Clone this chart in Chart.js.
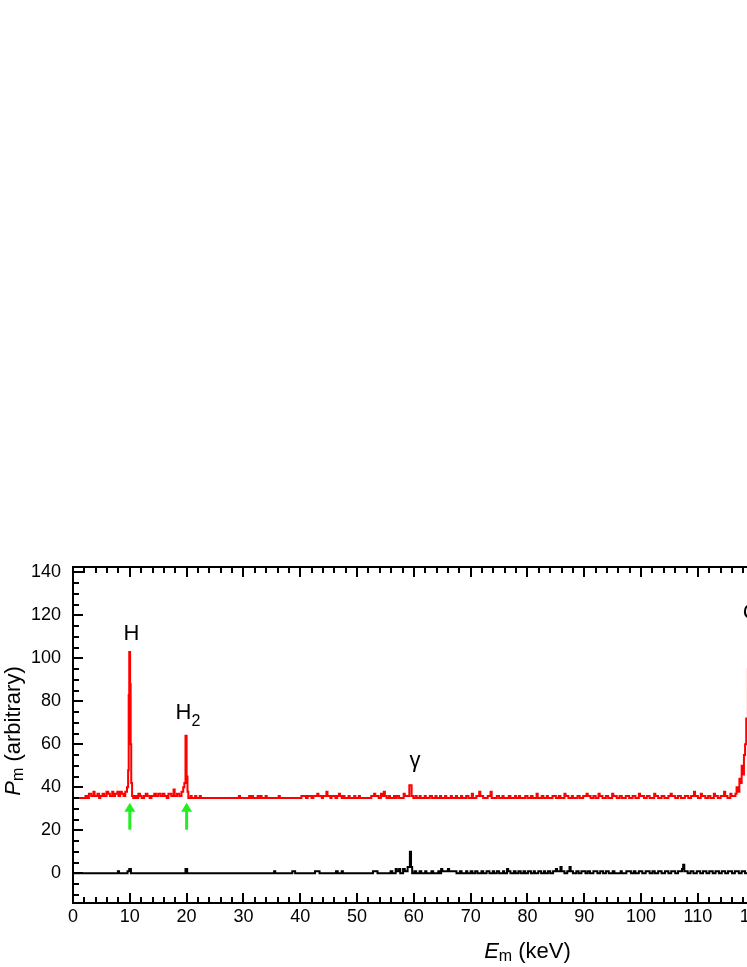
<!DOCTYPE html>
<html>
<head>
<meta charset="utf-8">
<script src="https://cdn.jsdelivr.net/npm/chart.js@4/dist/chart.umd.min.js"></script>
<style>
  html, body { margin: 0; padding: 0; background: #fff; overflow: hidden; }
  #wrap { width: 1000px; height: 967px; }
</style>
</head>
<body>
<div id="wrap"><canvas id="spectrum" width="1000" height="967"></canvas></div>
<script>
// bin start energy (keV) and level, red spectrum (offset by 35)
const redE = [0, 2.2, 2.5, 2.8, 3.2, 3.6, 3.8, 4.3, 4.6, 4.8, 5.2, 5.5, 5.9, 6.2, 6.5, 6.9, 7.1, 7.4, 7.8, 8.0, 8.3, 8.6, 8.9, 9.2,
  9.5, 9.7, 9.8, 9.9, 10.05, 10.15, 10.25, 10.4, 10.6,
  10.9, 11.2, 11.5, 11.8, 12.1, 12.5, 12.8, 13.1, 13.5, 13.8, 14.3, 14.6, 15.0, 15.4, 15.8, 16.1, 16.5, 16.8, 17.3, 17.7, 17.9,
  18.3, 18.7, 19.1, 19.4, 19.6, 19.8, 20.0, 20.15, 20.3,
  20.7, 20.9, 21.5, 21.7, 22.3, 22.5,
  29.2, 29.4, 31.0, 31.3, 31.5, 31.7, 32.5, 32.7, 33.0, 33.2, 33.9, 34.1, 36.2, 36.4,
  40.2, 41.0, 41.3, 42.0, 42.3, 43.0, 43.2, 43.8, 44.0, 44.6, 44.8, 45.3, 45.5, 46.2, 46.5, 46.8, 47.0, 47.3,
  47.6, 47.8, 48.5, 48.7, 49.5, 49.7, 50.3, 50.5, 52.5, 53.0, 53.2, 53.8, 54.2, 54.4, 54.7, 54.9, 55.2, 55.6, 55.8, 56.5, 56.7,
  57.0, 57.4, 58.2, 58.4, 59.2, 59.6, 59.9, 60.3, 60.5, 61.0, 61.2, 61.9, 62.1, 62.8, 63.2, 63.8, 64.0, 64.6, 64.8, 65.5, 65.7,
  66.5, 66.7, 67.4, 67.6, 68.3, 68.5, 69.2, 69.6, 70.2, 70.4, 71.0, 71.5, 71.7, 72.2, 73.0, 73.5, 73.7,
  74.6, 75.0, 75.6, 75.8, 76.7, 77.0, 77.8, 78.0, 78.5, 78.7, 79.6, 80.0, 80.6, 80.9, 81.6, 81.8, 82.5, 82.8, 83.4, 83.6,
  84.4, 85.0, 85.5, 85.8, 86.5, 86.7, 87.2, 87.8, 88.0, 88.8, 89.2, 89.8, 90.4, 90.6, 91.1, 91.6, 92.0, 92.5, 92.7, 93.2,
  93.8, 94.2, 94.9, 95.1, 95.7, 96.2, 96.6, 97.3, 97.9, 98.5, 99.0, 99.6, 99.8, 100.5, 101.0, 101.5, 102.3, 102.5, 103.0,
  103.6, 104.1, 104.8, 105.2, 105.4, 106.0, 106.5, 107.0, 107.7, 108.3, 108.8, 109.3, 109.5, 110.0, 110.5, 110.7, 111.3,
  111.8, 112.2, 112.8, 113.0, 113.5, 114.0, 114.6, 114.8, 115.2, 115.7, 115.9,
  116.6, 116.8, 117.0, 117.3, 117.5, 117.7, 117.9, 118.1, 118.3, 118.5, 118.8, 119.1, 119.4, 119.7, 120.0, 120.4, 120.8,
  121.3, 122.0, 123.0, 160];
const redP = [35, 36, 35, 37, 36, 38, 36, 37, 35, 36, 37, 36, 38, 37, 36, 38, 36, 37, 38, 36, 38, 37, 36, 38,
  40, 48, 83, 103, 88, 60, 42, 36, 35,
  36, 35, 37, 36, 35, 36, 37, 36, 35, 36, 37, 36, 37, 36, 37, 36, 35, 37, 36, 39, 36,
  37, 36, 38, 40, 42, 64, 45, 38, 35,
  36, 35, 36, 35, 36, 35,
  36, 35, 36, 35, 36, 35, 36, 35, 36, 35, 36, 35, 36, 35,
  36, 35, 36, 35, 36, 37, 36, 35, 36, 38, 36, 35, 36, 35, 36, 37, 36, 35,
  36, 35, 36, 35, 36, 35, 36, 35, 36, 37, 36, 35, 37, 36, 38, 36, 35, 36, 35, 36, 35,
  36, 35, 37, 36, 41, 36, 35, 36, 35, 36, 35, 36, 35, 36, 35, 36, 35, 36, 35, 36, 35,
  36, 35, 36, 35, 36, 35, 36, 35, 37, 35, 36, 38, 36, 35, 36, 38, 35,
  36, 35, 36, 35, 36, 35, 36, 35, 36, 35, 36, 35, 36, 35, 37, 35, 36, 35, 36, 35,
  36, 35, 36, 35, 37, 36, 35, 36, 35, 36, 35, 36, 37, 36, 35, 36, 35, 37, 36, 35,
  36, 35, 37, 36, 35, 36, 35, 36, 35, 36, 35, 37, 36, 35, 36, 35, 37, 36, 35,
  36, 35, 36, 37, 36, 35, 36, 35, 36, 35, 36, 38, 36, 35, 37, 36, 35,
  36, 35, 37, 36, 35, 36, 38, 36, 35, 37, 36,
  37, 40, 38, 44, 42, 50, 46, 55, 60, 72, 95, 108, 112, 90, 60, 45, 40,
  37, 36, 35, 35];

// black spectrum (no offset)
const blackE = [0, 7.9, 8.1, 9.6, 9.9, 10.2, 19.8, 20.1, 35.4, 35.6, 38.6, 39.1, 42.6, 43.4, 46.3, 46.6, 47.3, 47.5,
  52.8, 53.6, 55.9, 56.2, 56.8, 57.0, 57.4, 57.6, 58.1, 58.4, 58.9, 59.3, 59.5, 59.7, 60.1, 60.4, 61.0, 61.3,
  62.0, 62.2, 63.1, 63.4, 64.3, 64.5, 64.8, 65.0, 66.0, 66.2, 67.5, 68.1, 68.4, 69.2, 69.4,
  70.0, 70.3, 70.8, 71.2, 71.9, 72.2, 72.8, 73.3, 73.9, 74.1, 74.6, 75.0, 75.7, 75.9, 76.4, 76.6, 77.0, 77.6, 77.9,
  78.4, 78.8, 79.3, 79.6, 80.1, 80.6, 81.1, 81.3, 81.9, 82.4, 82.9, 83.1, 83.6, 84.0, 84.5, 85.0, 85.2, 85.8, 86.0,
  86.5, 87.0, 87.4, 87.6, 88.0, 88.6, 89.0, 89.5, 90.2, 90.6, 91.0, 91.6, 92.3, 92.8, 93.3, 93.8, 94.3, 95.0, 95.3,
  96.4, 96.6, 97.4, 98.2, 98.7, 99.0, 99.6, 100.2, 100.8, 101.5, 102.0, 102.4, 103.0, 103.6, 104.2, 104.8, 105.3,
  106.0, 106.5, 107.2, 107.4, 107.6, 108.2, 108.7, 109.2, 109.8, 110.4, 110.9, 111.5, 112.0, 112.6, 113.1, 113.7,
  114.2, 114.8, 115.3, 116.0, 116.5, 117.2, 117.7, 118.3, 160];
const blackP = [0, 1, 0, 1, 2, 0, 2, 0, 1, 0, 1, 0, 1, 0, 1, 0, 1, 0,
  1, 0, 1, 0, 2, 1, 2, 0, 2, 1, 3, 10, 3, 0, 1, 0, 1, 0,
  1, 0, 1, 0, 1, 0, 2, 1, 2, 1, 0, 1, 0, 1, 0,
  1, 0, 1, 0, 1, 0, 1, 0, 1, 0, 1, 0, 1, 0, 2, 1, 0, 1, 0,
  1, 0, 1, 0, 1, 0, 1, 0, 1, 0, 1, 0, 1, 0, 1, 2, 1, 3, 1,
  0, 1, 3, 1, 0, 1, 0, 1, 0, 1, 0, 1, 0, 1, 0, 1, 0, 1, 0,
  1, 0, 1, 0, 1, 0, 1, 0, 1, 0, 1, 0, 1, 0, 1, 0, 1,
  0, 1, 2, 4, 1, 0, 1, 0, 1, 0, 1, 0, 1, 0, 1, 0,
  1, 0, 1, 0, 1, 0, 1, 0, 0];

const xTicks = [0, 10, 20, 30, 40, 50, 60, 70, 80, 90, 100, 110, 120, 130, 140, 150, 160];
const yTicks = [0, 20, 40, 60, 80, 100, 120, 140];
const arrowsAt = [10, 20];

const FONT = "'Liberation Sans', Arial, Helvetica, sans-serif";

function pts(e, p) {
    return e.map((x, i) => ({ x: x, y: p[i] }));
}

// frame, inward ticks, peak labels, arrows and axis titles
const decor = {
    id: 'decor',
    afterDraw(chart) {
        const ctx = chart.ctx;
        const a = chart.chartArea;
        const xs = chart.scales.x, ys = chart.scales.y;
        ctx.save();
        ctx.strokeStyle = '#000';
        ctx.lineWidth = 2;
        ctx.lineCap = 'butt';

        ctx.beginPath();
        for (let v = 0; v <= 160; v += 2) {
            const px = Math.round(xs.getPixelForValue(v));
            const len = v % 10 === 0 ? 10 : 6;
            ctx.moveTo(px, a.bottom); ctx.lineTo(px, a.bottom - len);
            ctx.moveTo(px, a.top); ctx.lineTo(px, a.top + len);
        }
        for (let v = -10; v <= 140; v += 5) {
            const py = Math.round(ys.getPixelForValue(v));
            const len = v % 20 === 0 ? 10 : 6;
            ctx.moveTo(a.left, py); ctx.lineTo(a.left + len, py);
            ctx.moveTo(a.right, py); ctx.lineTo(a.right - len, py);
        }
        ctx.stroke();
        ctx.strokeRect(a.left, a.top, a.right - a.left, a.bottom - a.top);

        // green arrows
        ctx.fillStyle = '#22ee22';
        ctx.strokeStyle = '#22ee22';
        arrowsAt.forEach(e => {
            const px = xs.getPixelForValue(e);
            const yb = ys.getPixelForValue(20.3);
            const yt = ys.getPixelForValue(32.8);
            ctx.lineWidth = 3;
            ctx.beginPath();
            ctx.moveTo(px, yb); ctx.lineTo(px, yt + 8);
            ctx.stroke();
            ctx.beginPath();
            ctx.moveTo(px, yt);
            ctx.lineTo(px - 5.5, yt + 9);
            ctx.lineTo(px + 5.5, yt + 9);
            ctx.closePath();
            ctx.fill();
        });

        // peak labels
        ctx.fillStyle = '#000';
        ctx.textBaseline = 'alphabetic';
        ctx.textAlign = 'center';
        ctx.font = '22px ' + FONT;
        ctx.fillText('H', xs.getPixelForValue(10.3), ys.getPixelForValue(108.4));
        ctx.fillText('C', xs.getPixelForValue(119.3), ys.getPixelForValue(118.3));
        ctx.fillText('\u03b3', xs.getPixelForValue(60.2), ys.getPixelForValue(49.5));
        ctx.textAlign = 'left';
        const h2x = xs.getPixelForValue(18.05), h2y = ys.getPixelForValue(71.7);
        ctx.fillText('H', h2x, h2y);
        const hw = ctx.measureText('H').width;
        ctx.font = '16px ' + FONT;
        ctx.fillText('2', h2x + hw, h2y + 7);

        function drawParts(parts, cx, base) {
            let w = 0;
            parts.forEach(p => { ctx.font = p.f; w += ctx.measureText(p.t).width; });
            let x = cx - w / 2;
            parts.forEach(p => {
                ctx.font = p.f;
                ctx.fillText(p.t, x, base + p.dy);
                x += ctx.measureText(p.t).width;
            });
        }
        ctx.textAlign = 'left';
        drawParts([
            { t: 'E', f: 'italic 22px ' + FONT, dy: 0 },
            { t: 'm', f: '16px ' + FONT, dy: 3 },
            { t: ' (keV)', f: '22px ' + FONT, dy: 0 }
        ], (a.left + a.right) / 2, 958);

        ctx.save();
        ctx.translate(20, (a.top + a.bottom) / 2 - 4);
        ctx.rotate(-Math.PI / 2);
        drawParts([
            { t: 'P', f: 'italic 22px ' + FONT, dy: 0 },
            { t: 'm', f: '16px ' + FONT, dy: 3 },
            { t: ' (arbitrary)', f: '22px ' + FONT, dy: 0 }
        ], 0, 0);
        ctx.restore();

        ctx.restore();
    }
};

const ctx = document.getElementById('spectrum').getContext('2d');
new Chart(ctx, {
    type: 'line',
    data: {
        datasets: [
            {
                label: 'black',
                data: pts(blackE, blackP),
                borderColor: '#000',
                borderWidth: 2,
                stepped: true,
                pointRadius: 0,
                fill: false
            },
            {
                label: 'red',
                data: pts(redE, redP),
                borderColor: '#ff0000',
                borderWidth: 2,
                stepped: true,
                pointRadius: 0,
                fill: false
            }
        ]
    },
    options: {
        responsive: false,
        animation: false,
        devicePixelRatio: 1,
        layout: { padding: { top: 567, right: 16, bottom: 0, left: 0 } },
        plugins: {
            legend: { display: false },
            tooltip: { enabled: false }
        },
        scales: {
            x: {
                type: 'linear',
                min: 0,
                max: 160,
                grid: { display: false, drawTicks: false },
                border: { display: false },
                afterFit: s => { s.height = 64; },
                afterBuildTicks: s => { s.ticks = xTicks.map(v => ({ value: v })); },
                ticks: {
                    padding: 3,
                    autoSkip: false,
                    maxRotation: 0,
                    color: '#000',
                    font: { family: FONT, size: 18 }
                }
            },
            y: {
                type: 'linear',
                min: -13.8,
                max: 142.5,
                grid: { display: false, drawTicks: false },
                border: { display: false },
                afterFit: s => { s.width = 73; },
                afterBuildTicks: s => { s.ticks = yTicks.map(v => ({ value: v })); },
                ticks: {
                    padding: 12,
                    color: '#000',
                    font: { family: FONT, size: 18 }
                }
            }
        }
    },
    plugins: [decor]
});
</script>
</body>
</html>
